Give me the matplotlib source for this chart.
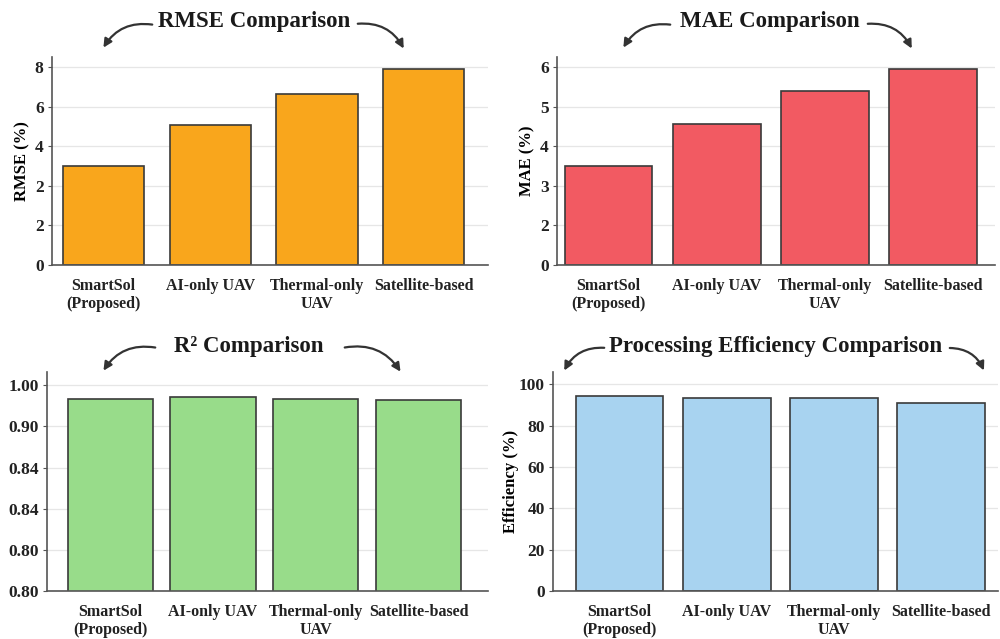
import numpy as np
import matplotlib
matplotlib.use("Agg")
import matplotlib.pyplot as plt
from matplotlib.scale import FuncScale

plt.rcParams['font.family'] = ['Liberation Serif', 'DejaVu Serif']

# Daten
methods = ["SmartSol\n(Proposed)", "AI-only UAV", "Thermal-only\nUAV", "Satellite-based"]
rmse = [3.0, 5.05, 6.65, 7.9]
mae = [3.5, 4.57, 5.4, 5.95]
r2 = [0.967, 0.971, 0.967, 0.963]
efficiency = [94.2, 93.5, 93.2, 90.8]

# Tick-Beschriftungen wie im Original
rmse_ticks = [0, 1, 2, 4, 6, 8]
rmse_labels = ["0", "2", "2", "4", "6", "8"]
mae_ticks = [0, 2, 3, 4, 5, 6]
mae_labels = ["0", "2", "3", "4", "5", "6"]
r2_ticks = [0.5, 0.6, 0.7, 0.8, 0.9, 1.0]
r2_labels = ["0.80", "0.80", "0.84", "0.84", "0.90", "1.00"]
eff_ticks = [0, 20, 40, 60, 80, 100]

W, H = 1000, 639
fig = plt.figure(figsize=(W / 100, H / 100), dpi=100)


def axes_px(x0, y0, x1, y1):
    return fig.add_axes([x0 / W, 1 - y1 / H, (x1 - x0) / W, (y1 - y0) / H])


def piecewise_scale(ax, vals, pos):
    fwd = lambda v: np.interp(v, vals, pos)
    inv = lambda p: np.interp(p, pos, vals)
    ax.set_yscale(FuncScale(ax.yaxis, (fwd, inv)))


def style(ax, ticks, labels, ylabel, labelpad=3):
    for s in ["top", "right"]:
        ax.spines[s].set_visible(False)
    for s in ["left", "bottom"]:
        ax.spines[s].set_color("#555555")
        ax.spines[s].set_linewidth(1.2)
    ax.set_yticks(ticks)
    ax.set_yticklabels(labels)
    ax.yaxis.grid(True, color="#e6e6e6", linewidth=0.9)
    ax.set_axisbelow(True)
    ax.tick_params(axis="y", length=3, color="#555555", labelsize=12.5, pad=3)
    ax.tick_params(axis="x", length=0, pad=9)
    ax.set_xticks(range(len(methods)))
    ax.set_xticklabels(methods, fontsize=11.5, fontweight="bold", color="#222222",
                       linespacing=1.25)
    for t in ax.get_yticklabels():
        t.set_color("#222222")
        t.set_fontweight("bold")
    ax.set_ylabel(ylabel, fontsize=12, fontweight="bold", labelpad=labelpad)


def title_arrows(text, cx, cy, left, right):
    fig.text(cx / W, 1 - cy / H, text, ha="center", va="center",
             fontsize=16.5, fontweight="bold", color="#1a1a1a")
    (lx0, ly0, lx1, ly1) = left
    (rx0, ry0, rx1, ry1) = right
    fig.add_artist(plt.Annotation("", xy=(lx1, H - ly1), xytext=(lx0, H - ly0),
                                  xycoords="figure pixels", textcoords="figure pixels",
                                  arrowprops=dict(arrowstyle="-|>,head_length=0.5,head_width=0.25",
                                                  color="#333333", lw=1.6,
                                                  connectionstyle="arc3,rad=0.35")))
    fig.add_artist(plt.Annotation("", xy=(rx1, H - ry1), xytext=(rx0, H - ry0),
                                  xycoords="figure pixels", textcoords="figure pixels",
                                  arrowprops=dict(arrowstyle="-|>,head_length=0.5,head_width=0.25",
                                                  color="#333333", lw=1.6,
                                                  connectionstyle="arc3,rad=-0.35")))


x = np.arange(len(methods))
edge = "#3a3a3a"

# RMSE
ax1 = axes_px(52, 57, 488, 265)
piecewise_scale(ax1, [0, 2, 4, 6, 8, 10], [0, 2, 3, 4, 5, 6])
ax1.bar(x, rmse, width=0.76, color="#F9A61C", edgecolor=edge, linewidth=1.2)
ax1.set_xlim(-0.48, 3.6)
ax1.set_ylim(0, 8.5)
style(ax1, rmse_ticks, rmse_labels, "RMSE (%)")
title_arrows("RMSE Comparison", 254, 22, (155, 25, 102, 50), (355, 24, 405, 51))

# MAE
ax2 = axes_px(557, 57, 995, 265)
piecewise_scale(ax2, [0, 2, 3, 4, 5, 6, 7], [0, 1, 2, 3, 4, 5, 6])
ax2.bar(x, mae, width=0.81, color="#F25A62", edgecolor=edge, linewidth=1.2)
ax2.set_xlim(-0.475, 3.57)
ax2.set_ylim(0, 6.25)
style(ax2, mae_ticks, mae_labels, "MAE (%)")
title_arrows("MAE Comparison", 770, 22, (673, 25, 622, 50), (865, 24, 913, 51))

# R2
ax3 = axes_px(47, 372, 488, 591)
ax3.bar(x, r2, width=0.83, color="#98DC8A", edgecolor=edge, linewidth=1.2)
ax3.set_xlim(-0.616, 3.676)
ax3.set_ylim(0.5, 1.032)
style(ax3, r2_ticks, r2_labels, "")
title_arrows("R\u00b2 Comparison", 249, 347, (158, 348, 102, 373), (342, 348, 402, 374))

# Efficiency
ax4 = axes_px(553, 372, 998, 591)
ax4.bar(x, efficiency, width=0.82, color="#A8D3F0", edgecolor=edge, linewidth=1.2)
ax4.set_xlim(-0.62, 3.53)
ax4.set_ylim(0, 106)
style(ax4, eff_ticks, [str(t) for t in eff_ticks], "Efficiency (%)", labelpad=0)
title_arrows("Processing Efficiency Comparison", 776, 347, (607, 348, 563, 373), (947, 348, 985, 373))

plt.savefig("out.png", dpi=100, facecolor="white")
